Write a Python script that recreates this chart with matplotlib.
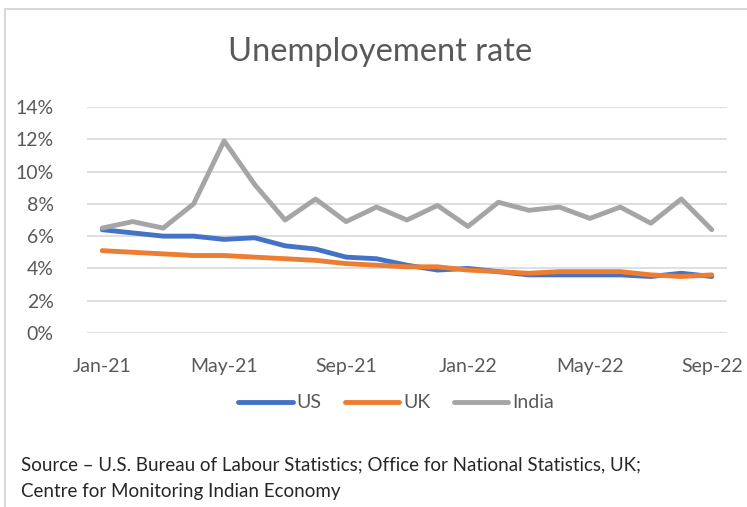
import matplotlib
matplotlib.use('Agg')
import matplotlib.pyplot as plt
from matplotlib.patches import Rectangle
from matplotlib.ticker import PercentFormatter

plt.rcParams['font.family'] = ['Lato', 'DejaVu Sans']

months = ['Jan-21', 'Feb-21', 'Mar-21', 'Apr-21', 'May-21', 'Jun-21', 'Jul-21',
          'Aug-21', 'Sep-21', 'Oct-21', 'Nov-21', 'Dec-21', 'Jan-22', 'Feb-22',
          'Mar-22', 'Apr-22', 'May-22', 'Jun-22', 'Jul-22', 'Aug-22', 'Sep-22']
us = [6.4, 6.2, 6.0, 6.0, 5.8, 5.9, 5.4, 5.2, 4.7, 4.6, 4.2, 3.9, 4.0, 3.8,
      3.6, 3.6, 3.6, 3.6, 3.5, 3.7, 3.5]
uk = [5.1, 5.0, 4.9, 4.8, 4.8, 4.7, 4.6, 4.5, 4.3, 4.2, 4.1, 4.1, 3.9, 3.8,
      3.7, 3.8, 3.8, 3.8, 3.6, 3.5, 3.6]
india = [6.5, 6.9, 6.5, 8.0, 11.9, 9.2, 7.0, 8.3, 6.9, 7.8, 7.0, 7.9, 6.6, 8.1,
         7.6, 7.8, 7.1, 7.8, 6.8, 8.3, 6.4]
tick_every = 4

grey_txt = '#595959'

fig = plt.figure(figsize=(7.47, 5.07), dpi=100)
# chart frame (only top and left edges fall inside the image)
fig.patches.append(Rectangle((5 / 747, -0.1), 1.2, 1 - 9 / 507 + 0.1,
                             transform=fig.transFigure, fill=False,
                             edgecolor='#d9d9d9', linewidth=1.5))

ax = fig.add_axes([87 / 747, 1 - 333 / 507, 640 / 747, 226 / 507])
x = range(len(months))
style = dict(lw=3.5, solid_capstyle='round', solid_joinstyle='round')
ax.plot(x, us, color='#4472c4', label='US', **style)
ax.plot(x, uk, color='#ed7d31', label='UK', **style)
ax.plot(x, india, color='#a5a5a5', label='India', **style)

ax.set_xlim(-0.5, len(months) - 0.5)
ax.set_ylim(0, 14)
ax.set_yticks(range(0, 15, 2))
ax.yaxis.set_major_formatter(PercentFormatter(decimals=0))
ax.set_xticks(list(x)[::tick_every])
ax.set_xticklabels(months[::tick_every])
ax.grid(axis='y', color='#d9d9d9', lw=1.2)
ax.set_axisbelow(True)
for s in ax.spines.values():
    s.set_visible(False)
ax.tick_params(length=0, labelsize=14, labelcolor=grey_txt)
ax.tick_params(axis='y', pad=24)
ax.tick_params(axis='x', pad=18)

fig.text(0.509, 1 - 52 / 507, 'Unemployement rate', ha='center', va='center',
         fontsize=23.5, color=grey_txt)

fig.legend(loc='center', bbox_to_anchor=(396 / 747, 1 - 403 / 507), ncol=3,
           frameon=False, fontsize=14, handlelength=2.8, handletextpad=0.2,
           columnspacing=1.2, labelcolor=grey_txt)

fig.text(21 / 747, 1 - 465 / 507, 'Source – U.S. Bureau of Labour Statistics; '
         'Office for National Statistics, UK;', ha='left', va='center',
         fontsize=13.5, color='#262626')
fig.text(21 / 747, 1 - 492 / 507, 'Centre for Monitoring Indian Economy',
         ha='left', va='center', fontsize=13.5, color='#262626')

fig.savefig('out.png', dpi=100)
